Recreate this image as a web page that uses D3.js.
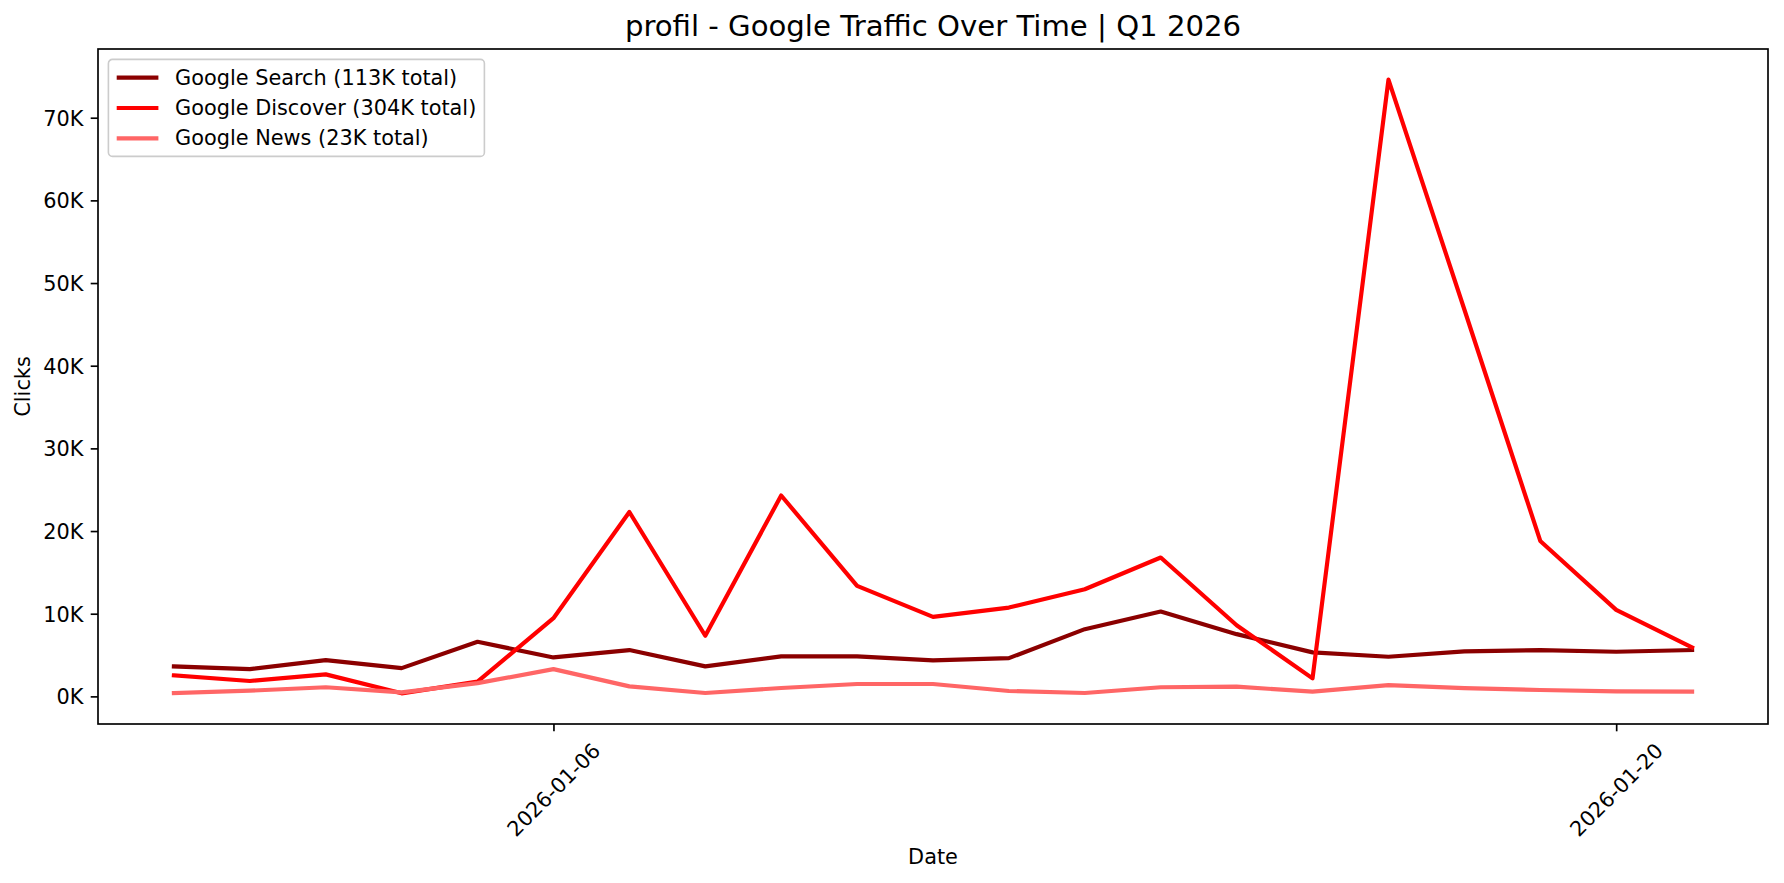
<!DOCTYPE html>
<html>
<head>
<meta charset="utf-8">
<script src="https://cdn.jsdelivr.net/npm/d3@7"></script>
<style>
  body { margin: 0; background: #fff; }
  svg { display: block; font-family: "DejaVu Sans", sans-serif; }
</style>
</head>
<body>
<svg id="chart"></svg>
<script>
// data (daily clicks, 1-21 Jan 2026)
const dates = ["2026-01-01","2026-01-02","2026-01-03","2026-01-04","2026-01-05","2026-01-06","2026-01-07",
  "2026-01-08","2026-01-09","2026-01-10","2026-01-11","2026-01-12","2026-01-13","2026-01-14",
  "2026-01-15","2026-01-16","2026-01-17","2026-01-18","2026-01-19","2026-01-20","2026-01-21"];
const searchClicks = [3630, 3300, 4390, 3420, 6600, 4710, 5600, 3630, 4840, 4840, 4350, 4630, 8130, 10260,
  7530, 5320, 4790, 5440, 5600, 5400, 5600];
const discoverClicks = [2540, 1860, 2660, 370, 1780, 9460, 22300, 7330, 24300, 13360, 9620, 10740, 12960, 16800,
  8600, 2180, 74600, 46800, 18800, 10460, 5920];
const newsClicks = [410, 690, 1100, 490, 1600, 3300, 1210, 410, 1010, 1500, 1500, 650, 410, 1100,
  1170, 570, 1370, 1000, 770, 610, 570];
const seriesLabels = ["Google Search (113K total)", "Google Discover (304K total)", "Google News (23K total)"];
const seriesColors = ["#8b0000", "#ff0000", "#ff6666"];
const xTickLabels = ["2026-01-06", "2026-01-20"];
const yTicks = [0, 10000, 20000, 30000, 40000, 50000, 60000, 70000];
const chartTitle = "profil - Google Traffic Over Time | Q1 2026";

class TrafficChart {
  constructor(_config) {
    this.config = {
      parentElement: _config.parentElement,
      containerWidth: 1784,
      containerHeight: 883,
      margin: { top: 49, bottom: 159, right: 16, left: 98 }
    };
    this.initVis();
  }

  initVis() {
    let vis = this;
    vis.width = vis.config.containerWidth - vis.config.margin.left - vis.config.margin.right;
    vis.height = vis.config.containerHeight - vis.config.margin.top - vis.config.margin.bottom;

    const parse = d3.utcParse("%Y-%m-%d");
    vis.days = dates.map(parse);
    vis.series = [searchClicks, discoverClicks, newsClicks];

    // matplotlib style 5% padding on both axes
    const x0 = d3.min(vis.days), x1 = d3.max(vis.days);
    const xPad = (x1 - x0) * 0.05;
    vis.xScale = d3.scaleUtc()
      .domain([new Date(+x0 - xPad), new Date(+x1 + xPad)])
      .range([0, vis.width]);

    const all = vis.series.flat();
    const yMin = d3.min(all), yMax = d3.max(all);
    const yPad = (yMax - yMin) * 0.05;
    vis.yScale = d3.scaleLinear()
      .domain([yMin - yPad, yMax + yPad])
      .range([vis.height, 0]);

    vis.svg = d3.select("#" + vis.config.parentElement)
      .attr("width", vis.config.containerWidth)
      .attr("height", vis.config.containerHeight);

    vis.chart = vis.svg.append("g")
      .attr("transform", `translate(${vis.config.margin.left},${vis.config.margin.top})`);

    vis.renderVis();
  }

  renderVis() {
    let vis = this;
    const tickLen = 7.3, pad = 7.3, fs = 20.83;

    // lines
    const line = d3.line()
      .x((d, i) => vis.xScale(vis.days[i]))
      .y(d => vis.yScale(d));

    vis.chart.selectAll(".series").data(vis.series).enter()
      .append("path")
        .attr("class", "series")
        .attr("d", d => line(d))
        .attr("fill", "none")
        .attr("stroke", (d, i) => seriesColors[i])
        .attr("stroke-width", 4.17)
        .attr("stroke-linejoin", "round")
        .attr("stroke-linecap", "square");

    // y axis
    const yAxis = d3.axisLeft(vis.yScale)
      .tickValues(yTicks)
      .tickFormat(d => `${d / 1000}K`)
      .tickSize(tickLen)
      .tickPadding(pad);
    const yG = vis.chart.append("g").call(yAxis);
    yG.select(".domain").remove();
    yG.selectAll("line").attr("stroke", "#000").attr("stroke-width", 1.67);
    yG.selectAll("text").attr("font-size", fs).attr("fill", "#000")
      .attr("font-family", "DejaVu Sans").attr("dy", "0.35em");

    // x axis
    const parse = d3.utcParse("%Y-%m-%d");
    const xAxis = d3.axisBottom(vis.xScale)
      .tickValues(xTickLabels.map(parse))
      .tickFormat(d3.utcFormat("%Y-%m-%d"))
      .tickSize(tickLen)
      .tickPadding(pad);
    const xG = vis.chart.append("g")
      .attr("transform", `translate(0,${vis.height})`)
      .call(xAxis);
    xG.select(".domain").remove();
    xG.selectAll("line").attr("stroke", "#000").attr("stroke-width", 1.67);
    xG.selectAll("text")
      .attr("font-size", fs).attr("fill", "#000").attr("font-family", "DejaVu Sans")
      .attr("y", 0).attr("dy", 0)
      .attr("text-anchor", "middle")
      .attr("dominant-baseline", "central")
      .attr("transform", "translate(0,66) rotate(-45)");

    // frame
    vis.chart.append("rect")
      .attr("width", vis.width).attr("height", vis.height)
      .attr("fill", "none").attr("stroke", "#000").attr("stroke-width", 1.67);

    // labels
    vis.svg.append("text")
      .attr("x", vis.config.margin.left + vis.width / 2).attr("y", 36)
      .attr("text-anchor", "middle").attr("font-size", 29.17)
      .text(chartTitle);
    vis.svg.append("text")
      .attr("x", vis.config.margin.left + vis.width / 2).attr("y", 857)
      .attr("text-anchor", "middle").attr("dominant-baseline", "central")
      .attr("font-size", fs).text("Date");
    vis.svg.append("text")
      .attr("transform", `translate(23,${vis.config.margin.top + vis.height / 2}) rotate(-90)`)
      .attr("text-anchor", "middle").attr("dominant-baseline", "central")
      .attr("font-size", fs).text("Clicks");

    // legend
    const lg = vis.chart.append("g").attr("transform", "translate(10.4,10.4)");
    lg.append("rect")
      .attr("width", 376).attr("height", 97).attr("rx", 4)
      .attr("fill", "#fff").attr("fill-opacity", 0.8)
      .attr("stroke", "#cccccc").attr("stroke-width", 1.6);
    const rows = lg.selectAll(".row").data(seriesLabels).enter()
      .append("g")
        .attr("class", "row")
        .attr("transform", (d, i) => `translate(8.3,${18.3 + i * 30.3})`);
    rows.append("line")
      .attr("x1", 0).attr("x2", 41.7)
      .attr("stroke", (d, i) => seriesColors[i])
      .attr("stroke-width", 4.17);
    rows.append("text")
      .attr("x", 58.4)
      .attr("dominant-baseline", "central")
      .attr("font-size", fs)
      .text(d => d);
  }
}

new TrafficChart({ parentElement: "chart" });
</script>
</body>
</html>
